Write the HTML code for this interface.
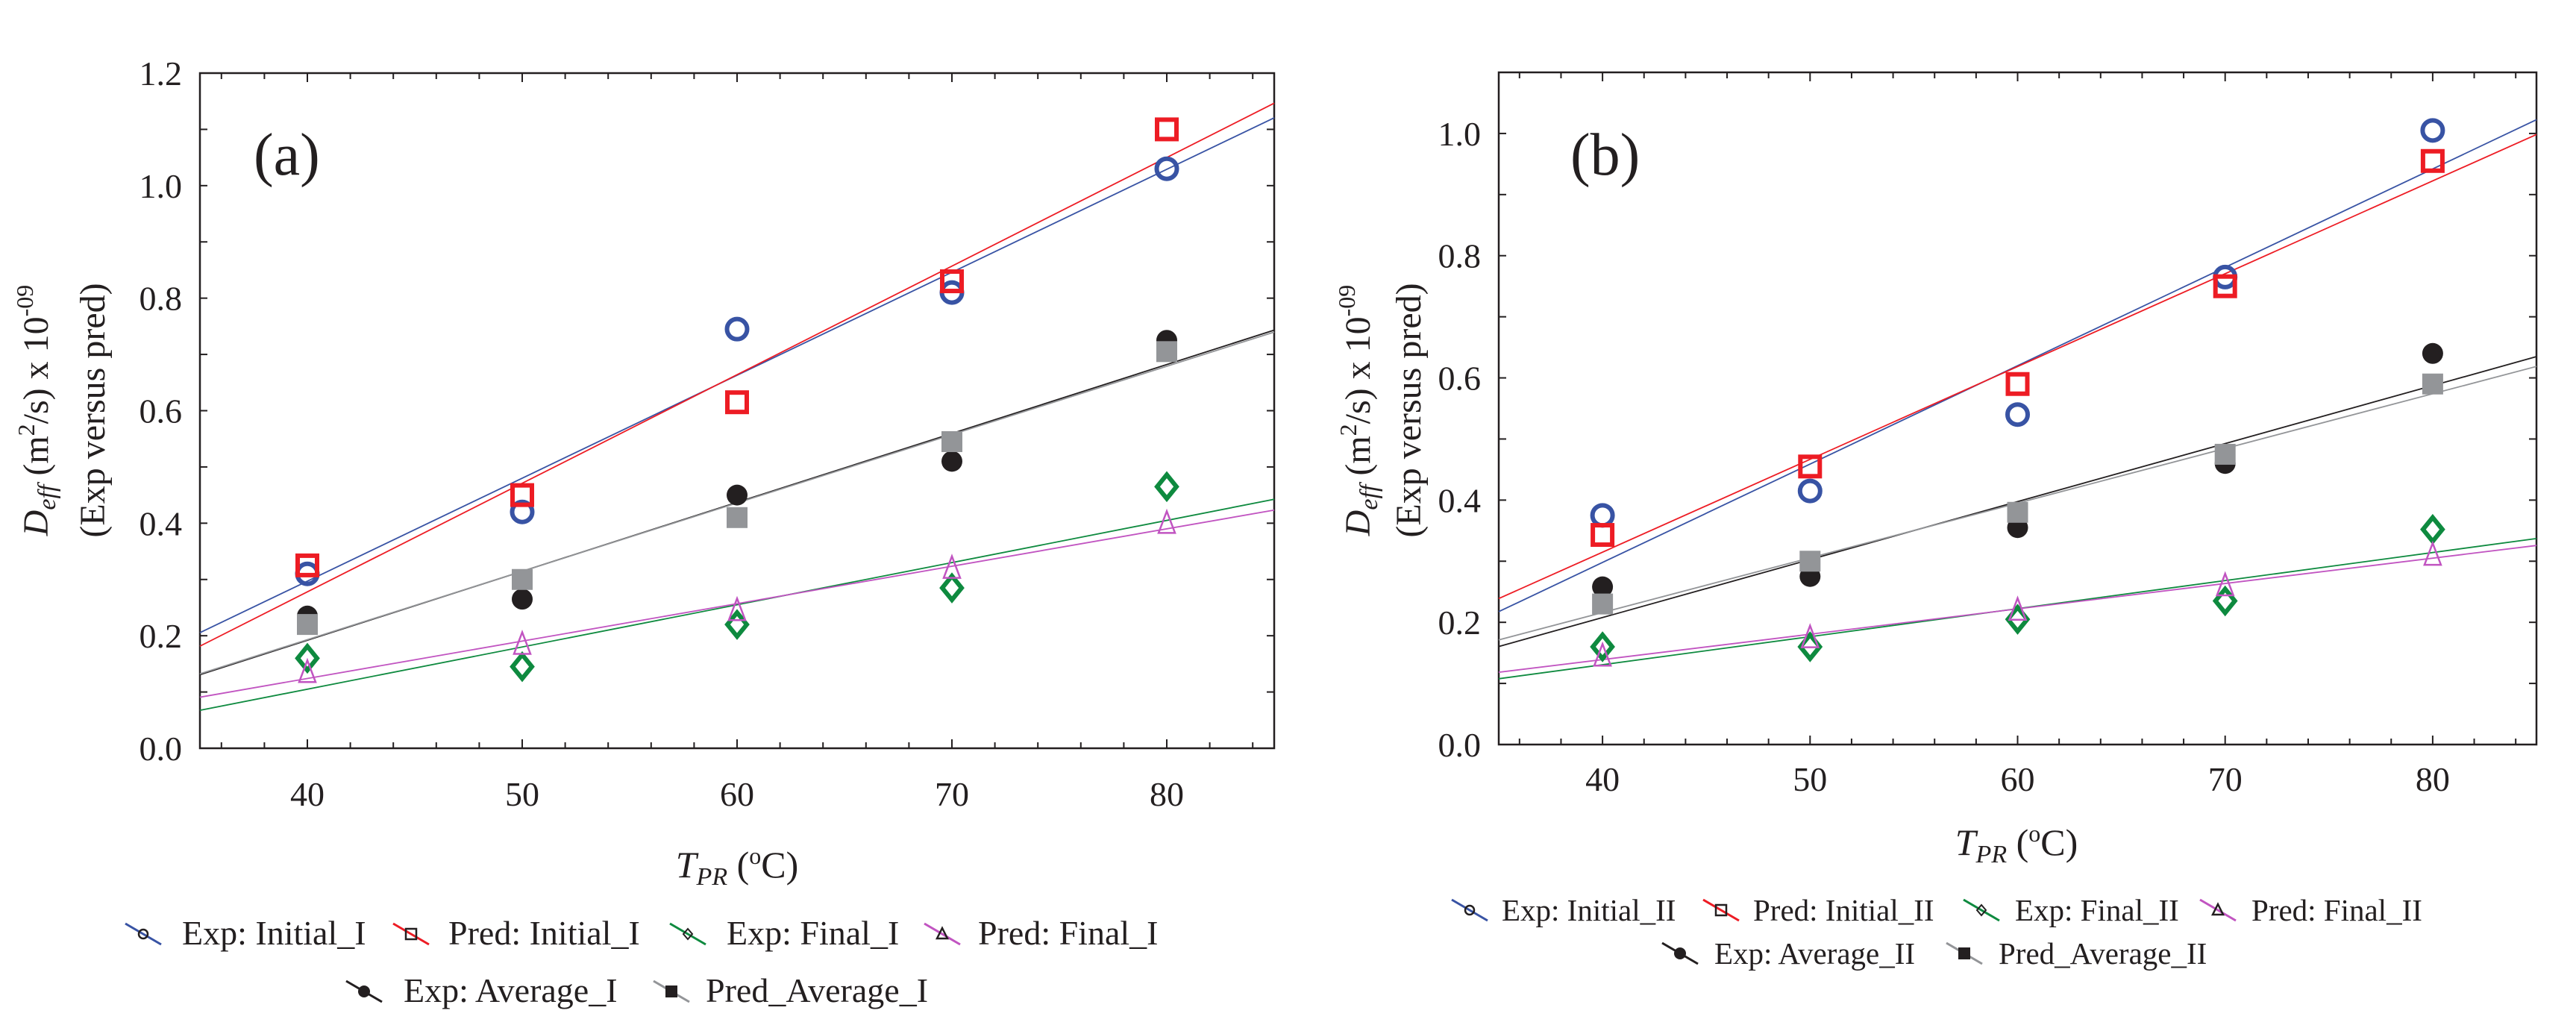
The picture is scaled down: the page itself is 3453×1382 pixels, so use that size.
<!DOCTYPE html>
<html><head><meta charset="utf-8">
<style>
html,body{margin:0;padding:0;background:#fff;}
svg{display:block;}
text{font-family:"Liberation Serif","DejaVu Serif",serif;fill:#231f20;}
</style></head>
<body>
<svg id="fig" width="3453" height="1382" viewBox="0 0 3453 1382" xmlns="http://www.w3.org/2000/svg" font-family="Liberation Serif, DejaVu Serif, serif"></svg>
<script>
// ---- data: shared x categories ----
const temps = [40, 50, 60, 70, 80];
const xTicks = [40, 50, 60, 70, 80];
const yTicksA = [0.0, 0.2, 0.4, 0.6, 0.8, 1.0, 1.2];
const yTicksB = [0.0, 0.2, 0.4, 0.6, 0.8, 1.0];
// ---- panel (a) ----
const expInitialA = [0.31, 0.42, 0.745, 0.81, 1.03];
const predInitialA = [0.325, 0.45, 0.615, 0.83, 1.10];
const expFinalA = [0.16, 0.145, 0.22, 0.285, 0.465];
const predFinalA = [0.135, 0.185, 0.245, 0.32, 0.40];
const expAverageA = [0.235, 0.265, 0.45, 0.51, 0.725];
const predAverageA = [0.22, 0.30, 0.41, 0.545, 0.705];
// ---- panel (b) ----
const expInitialB = [0.375, 0.415, 0.54, 0.765, 1.005];
const predInitialB = [0.343, 0.455, 0.59, 0.75, 0.955];
const expFinalB = [0.16, 0.16, 0.205, 0.235, 0.352];
const predFinalB = [0.145, 0.175, 0.22, 0.26, 0.31];
const expAverageB = [0.258, 0.275, 0.355, 0.46, 0.64];
const predAverageB = [0.23, 0.30, 0.38, 0.475, 0.59];

const NS = "http://www.w3.org/2000/svg";
const svg = document.getElementById('fig');
const FONT = '"Liberation Serif", "DejaVu Serif", serif';
function mk(tag, attrs, parent) {
  const e = document.createElementNS(NS, tag);
  for (const k in attrs) e.setAttribute(k, attrs[k]);
  if (tag === 'text') e.style.fontFamily = FONT;
  (parent || svg).appendChild(e);
  return e;
}
const C = {blue:'#3853a4', red:'#ed1c24', green:'#0e8a3f', mag:'#c154c1', black:'#231f20', gray:'#939598'};

function marker(g, type, cx, cy, s) {
  let e;
  if (type === 'circle') e = mk('circle', {cx:cx, cy:cy, r:13.5*s, fill:'none', stroke:C.blue, 'stroke-width':6*s}, g);
  else if (type === 'square') e = mk('rect', {x:cx-13*s, y:cy-13*s, width:26*s, height:26*s, fill:'none', stroke:C.red, 'stroke-width':6*s}, g);
  else if (type === 'diamond') e = mk('polygon', {points:`${cx},${cy-16*s} ${cx+13*s},${cy} ${cx},${cy+16*s} ${cx-13*s},${cy}`, fill:'none', stroke:C.green, 'stroke-width':6*s}, g);
  else if (type === 'triangle') e = mk('polygon', {points:`${cx},${cy-16*s} ${cx+11*s},${cy+13*s} ${cx-11*s},${cy+13*s}`, fill:'none', stroke:C.mag, 'stroke-width':2.5*s}, g);
  else if (type === 'dot') e = mk('circle', {cx:cx, cy:cy, r:14*s, fill:C.black}, g);
  else if (type === 'fsquare') e = mk('rect', {x:cx-14*s, y:cy-14*s, width:28*s, height:28*s, fill:C.gray}, g);
  return e;
}

function fit(xs, ys) {
  const n = xs.length;
  const mx = xs.reduce((a,b)=>a+b,0)/n, my = ys.reduce((a,b)=>a+b,0)/n;
  let sxy = 0, sxx = 0;
  for (let i=0;i<n;i++){ sxy += (xs[i]-mx)*(ys[i]-my); sxx += (xs[i]-mx)*(xs[i]-mx); }
  const m = sxy/sxx;
  return x => my + m*(x-mx);
}

function panel(cfg) {
  const g = mk('g', {});
  
  
  const X = v => cfg.left + (v - 35) / 50 * (cfg.right - cfg.left);
  const Y = v => cfg.bottom - (v - 0) / cfg.ymax * (cfg.bottom - cfg.top);
  const fr = mk('rect', {x:cfg.left, y:cfg.top, width:cfg.right-cfg.left, height:cfg.bottom-cfg.top, fill:'none', stroke:C.black, 'stroke-width':2.5}, g);
  
  
  for (let v = 36; v <= 84; v += 2) {
    const len = (v % 10 === 0) ? 12 : 8;
    mk('line', {x1:X(v), x2:X(v), y1:cfg.bottom, y2:cfg.bottom-len, stroke:C.black, 'stroke-width':2}, g);
    mk('line', {x1:X(v), x2:X(v), y1:cfg.top, y2:cfg.top+len, stroke:C.black, 'stroke-width':2}, g);
  }
  xTicks.forEach(v => {
    const t = mk('text', {x:X(v), y:cfg.xlabY, 'font-size':46, 'text-anchor':'middle'}, g);
    t.textContent = String(v);
    
    
  });
  for (let k = 1; k * 0.1 < cfg.ymax - 1e-9; k++) {
    const v = k * 0.1;
    mk('line', {x1:cfg.left, x2:cfg.left+10, y1:Y(v), y2:Y(v), stroke:C.black, 'stroke-width':2}, g);
    mk('line', {x1:cfg.right, x2:cfg.right-10, y1:Y(v), y2:Y(v), stroke:C.black, 'stroke-width':2}, g);
  }
  cfg.yTicks.forEach(v => {
    const t = mk('text', {x:cfg.left-24, y:Y(v)+16, 'font-size':46, 'text-anchor':'end'}, g);
    t.textContent = v.toFixed(1);
    
    
  });
  cfg.series.forEach(s => {
    const f = fit(temps, s.vals);
    const ln = mk('line', {x1:X(35), y1:Y(f(35)), x2:X(85), y2:Y(f(85)), stroke:s.color, 'stroke-width':1.8}, g);
    
    
  });
  cfg.series.forEach(s => {
    s.vals.forEach((v, i) => {
      const m = marker(g, s.type, X(temps[i]), Y(v), 1);
      
      
    });
  });
  const pl = mk('text', {x:cfg.lblX, y:cfg.lblY, 'font-size':80}, g);
  pl.textContent = cfg.label;
  
  
  const xt = mk('text', {x:cfg.xtX, y:cfg.xtY, 'font-size':50, 'text-anchor':'middle'}, g);
  xt.innerHTML = '<tspan font-style="italic">T</tspan><tspan font-style="italic" font-size="34" dy="10">PR</tspan><tspan dy="-10"> (</tspan><tspan font-size="32" dy="-18">o</tspan><tspan dy="18">C)</tspan>';
  
  
  const yt = mk('text', {transform:`translate(${cfg.ytX},${cfg.ytY}) rotate(-90)`, 'font-size':48, 'text-anchor':'middle'}, g);
  yt.innerHTML = '<tspan font-style="italic">D</tspan><tspan font-style="italic" font-size="34" dy="10">eff</tspan><tspan dy="-10"> (m</tspan><tspan font-size="32" dy="-18">2</tspan><tspan dy="18">/s) x 10</tspan><tspan font-size="32" dy="-20">-09</tspan>';
  
  
  const yt2 = mk('text', {transform:`translate(${cfg.ytX+cfg.yt2dx},${cfg.ytY}) rotate(-90)`, 'font-size':48, 'text-anchor':'middle'}, g);
  yt2.textContent = '(Exp versus pred)';
  
  
  cfg.legend.forEach(L => {
    const s = cfg.series[L.i];
    const lg = mk('g', {}, g);
    
    
    mk('line', {x1:L.lx, y1:L.y-22, x2:L.lx+48, y2:L.y+6, stroke:s.color, 'stroke-width':3}, lg);
    const lt = s.type;
    const cx = L.lx+24, cy = L.y-8;
    if (lt==='circle') mk('circle',{cx:cx,cy:cy,r:6,fill:'none',stroke:C.black,'stroke-width':2.5},lg);
    else if (lt==='square') mk('rect',{x:cx-7,y:cy-7,width:14,height:14,fill:'none',stroke:C.black,'stroke-width':2.5},lg);
    else if (lt==='diamond') mk('polygon',{points:`${cx},${cy-7} ${cx+6},${cy} ${cx},${cy+7} ${cx-6},${cy}`,fill:'none',stroke:C.black,'stroke-width':2},lg);
    else if (lt==='triangle') mk('polygon',{points:`${cx},${cy-8} ${cx+7},${cy+6} ${cx-7},${cy+6}`,fill:'none',stroke:C.black,'stroke-width':2.5},lg);
    else if (lt==='dot') mk('circle',{cx:cx,cy:cy,r:8,fill:C.black},lg);
    else mk('rect',{x:cx-8,y:cy-8,width:16,height:16,fill:C.black},lg);
    const t = mk('text', {x:L.tx, y:L.y+6, 'font-size':cfg.legFont}, lg);
    t.textContent = s.label;
  });
}

panel({
  name:'panel-a', label:'(a)', left:268, right:1708, top:98, bottom:1003, ymax:1.2, yTicks:yTicksA,
  xlabY:1080, lblX:340, lblY:234, xtX:988, xtY:1176, ytX:64, ytY:550, yt2dx:76, legFont:46,
  series:[
    {id:'exp-initial-i', label:'Exp: Initial_I', vals:expInitialA, color:C.blue, type:'circle'},
    {id:'pred-initial-i', label:'Pred: Initial_I', vals:predInitialA, color:C.red, type:'square'},
    {id:'exp-final-i', label:'Exp: Final_I', vals:expFinalA, color:C.green, type:'diamond'},
    {id:'pred-final-i', label:'Pred: Final_I', vals:predFinalA, color:C.mag, type:'triangle'},
    {id:'exp-average-i', label:'Exp: Average_I', vals:expAverageA, color:C.black, type:'dot'},
    {id:'pred-average-i', label:'Pred_Average_I', vals:predAverageA, color:C.gray, type:'fsquare'}
  ],
  legend:[
    {i:0, lx:168, tx:244, y:1260}, {i:1, lx:527, tx:601, y:1260},
    {i:2, lx:898, tx:974, y:1260}, {i:3, lx:1239, tx:1311, y:1260},
    {i:4, lx:464, tx:541, y:1337}, {i:5, lx:876, tx:946, y:1337}
  ]
});

panel({
  name:'panel-b', label:'(b)', left:2009, right:3400, top:97, bottom:998, ymax:1.1, yTicks:yTicksB,
  xlabY:1060, lblX:2105, lblY:234, xtX:2703, xtY:1146, ytX:1836, ytY:550, yt2dx:68, legFont:41,
  series:[
    {id:'exp-initial-ii', label:'Exp: Initial_II', vals:expInitialB, color:C.blue, type:'circle'},
    {id:'pred-initial-ii', label:'Pred: Initial_II', vals:predInitialB, color:C.red, type:'square'},
    {id:'exp-final-ii', label:'Exp: Final_II', vals:expFinalB, color:C.green, type:'diamond'},
    {id:'pred-final-ii', label:'Pred: Final_II', vals:predFinalB, color:C.mag, type:'triangle'},
    {id:'exp-average-ii', label:'Exp: Average_II', vals:expAverageB, color:C.black, type:'dot'},
    {id:'pred-average-ii', label:'Pred_Average_II', vals:predAverageB, color:C.gray, type:'fsquare'}
  ],
  legend:[
    {i:0, lx:1946, tx:2013, y:1228}, {i:1, lx:2283, tx:2350, y:1228},
    {i:2, lx:2632, tx:2701, y:1228}, {i:3, lx:2949, tx:3018, y:1228},
    {i:4, lx:2228, tx:2298, y:1286}, {i:5, lx:2609, tx:2679, y:1286}
  ]
});
</script>
</body></html>
